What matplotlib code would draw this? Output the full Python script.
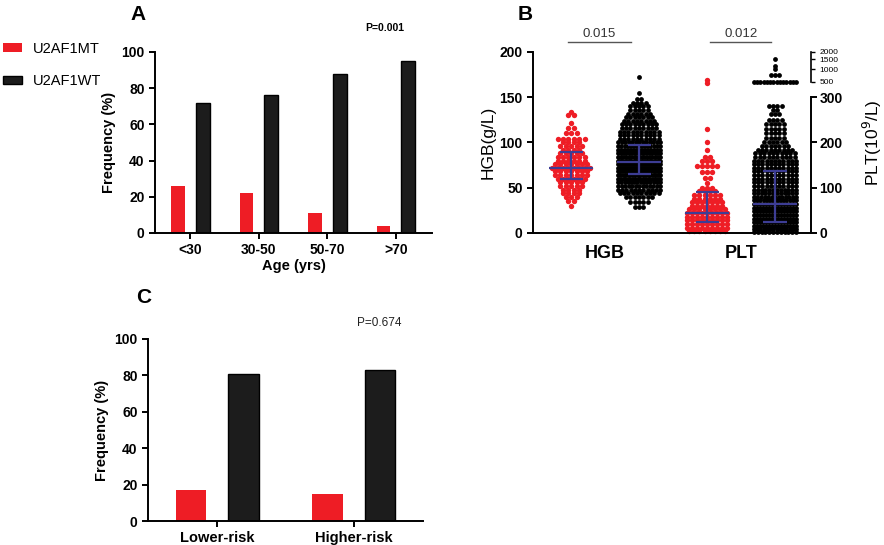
import numpy as np
import matplotlib
matplotlib.use('Agg')
import matplotlib.pyplot as plt
from matplotlib.patches import Patch

plt.rcParams['font.family'] = ['Liberation Sans', 'DejaVu Sans']

RED = '#ee1d25'
DARK = '#1c1c1c'
BLUE = '#3d3d94'

# ---- panel A: age groups
age_groups = ['<30', '30-50', '50-70', '>70']
age_mt = [26, 22, 11, 4]
age_wt = [72, 76, 88, 95]

# ---- panel C: risk groups
risk_groups = ['Lower-risk', 'Higher-risk']
risk_mt = [17, 15]
risk_wt = [81, 83]

# ---- panel B: dot rows (value level, number of dots)
hgb_mt_levels = [134, 130, 121, 116, 111, 104, 100, 96, 92, 88, 84, 80, 76, 72,
                 68, 64, 60, 56, 52, 48, 44, 40, 35, 30]
hgb_mt_counts = [1, 2, 1, 2, 3, 6, 4, 5, 4, 5, 6, 6, 7, 8,
                 7, 7, 6, 5, 5, 4, 4, 3, 2, 1]

hgb_wt_levels = [172, 155, 148, 144, 140, 136, 132, 128, 124, 120, 116, 112, 108, 104,
                 100, 96, 92, 88, 84, 80, 76, 72, 68, 64, 60, 56, 52,
                 48, 44, 40, 34, 29]
hgb_wt_counts = [1, 1, 2, 4, 5, 5, 6, 7, 8, 9, 9, 10, 10, 10,
                 13, 14, 15, 16, 17, 20, 22, 22, 20, 18, 16, 14, 13,
                 11, 10, 7, 5, 3]

plt_mt_levels = [580, 480, 229, 202, 184, 168, 158, 147, 134, 122, 110, 100, 92, 84,
                 76, 68, 60, 52, 44, 36, 28, 20, 12, 4]
plt_mt_counts = [1, 1, 1, 1, 1, 2, 3, 5, 3, 2, 1, 3, 4, 6,
                 6, 7, 7, 8, 9, 9, 9, 9, 9, 8]

plt_wt_levels = [1520, 1150, 1000, 780, 500, 280, 272, 262, 250, 240, 230, 220, 210,
                 200, 192, 184, 176, 168, 160, 152, 144, 136, 128, 120, 112, 104,
                 96, 88, 80, 72, 64, 56, 48, 40, 32, 24, 16, 8, 2]
plt_wt_counts = [1, 1, 1, 3, 14, 4, 2, 3, 4, 5, 5, 5, 5,
                 6, 7, 9, 10, 10, 11, 11, 11, 11, 11, 11, 11, 11,
                 12, 12, 13, 14, 15, 15, 15, 15, 15, 15, 15, 14, 12]

# median, lower quartile, upper quartile
hgb_mt_stats = [72, 60, 89]
hgb_wt_stats = [78, 65, 97]
plt_mt_stats = [45, 25, 90]
plt_wt_stats = [65, 25, 136]


def plt_to_y(v):
    # broken right axis: 0-300 linear, then compressed 500-2000 segment
    return np.interp(v, [0, 300, 500, 1000, 1500, 2000], [0, 150, 167, 181, 192, 200])


def swarm(center, levels, counts, step, width):
    xs, ys = [], []
    for lv, n in zip(levels, counts):
        d = step if n < 2 else min(step, width / (n - 1))
        xs.extend(center + (np.arange(n) - (n - 1) / 2) * d)
        ys.extend([lv] * n)
    return np.array(xs), np.array(ys)


def bar_axes(ax):
    ax.spines['top'].set_visible(False)
    ax.spines['right'].set_visible(False)
    for s in ['left', 'bottom']:
        ax.spines[s].set_linewidth(1.4)
    ax.tick_params(width=1.4, length=4)
    ax.set_ylim(0, 100)
    ax.set_yticks([0, 20, 40, 60, 80, 100])
    for lab in ax.get_yticklabels():
        lab.set_fontweight('bold')
        lab.set_fontsize(10)
    ax.set_ylabel('Frequency (%)', fontsize=10.5, fontweight='bold', labelpad=4)


fig = plt.figure(figsize=(8.84, 5.45), dpi=100)

# ---------------- A
axA = fig.add_axes([0.1753, 0.5725, 0.3133, 0.3321])
xa = np.arange(len(age_groups))
axA.bar(xa - 0.18, age_mt, 0.2, color=RED)
axA.bar(xa + 0.18, age_wt, 0.2, color=DARK, edgecolor='black')
axA.set_xlim(-0.518, 3.526)
bar_axes(axA)
axA.set_xticks(xa)
axA.set_xticklabels(age_groups, fontsize=10, fontweight='bold')
axA.set_xlabel('Age (yrs)', fontsize=10.5, fontweight='bold', labelpad=1)
axA.text(0.83, 1.13, 'P=0.001', transform=axA.transAxes, ha='center', va='center',
         fontsize=7.5, fontweight='bold')

# ---------------- C
axC = fig.add_axes([0.1674, 0.044, 0.3111, 0.334])
xc = np.arange(len(risk_groups))
axC.bar(xc - 0.19, risk_mt, 0.226, color=RED)
axC.bar(xc + 0.19, risk_wt, 0.226, color=DARK, edgecolor='black')
axC.set_xlim(-0.504, 1.504)
bar_axes(axC)
axC.set_xticks(xc)
axC.set_xticklabels(risk_groups, fontsize=10.5, fontweight='bold')
axC.text(0.84, 1.09, 'P=0.674', transform=axC.transAxes, ha='center', va='center',
         fontsize=8.5, color='#222222')

# ---------------- B
axB = fig.add_axes([0.603, 0.5725, 0.3145, 0.3321])
axB.set_xlim(0.44, 4.53)
axB.set_ylim(0, 200)
axB.spines['top'].set_visible(False)
axB.spines['right'].set_visible(False)
for s in ['left', 'bottom']:
    axB.spines[s].set_linewidth(1.4)
axB.tick_params(axis='y', width=1.4, length=4)
axB.set_yticks([0, 50, 100, 150, 200])
for lab in axB.get_yticklabels():
    lab.set_fontweight('bold')
    lab.set_fontsize(10)
axB.set_xticks([1.5, 3.5])
axB.set_xticklabels(['HGB', 'PLT'], fontsize=13, fontweight='bold')
axB.tick_params(axis='x', length=0, pad=9)
axB.set_ylabel('HGB(g/L)', fontsize=12.5, labelpad=3)

step = 0.064
groups = [
    (1, hgb_mt_levels, hgb_mt_counts, hgb_mt_stats, RED, False, 0.08, 0.56, 15),
    (2, hgb_wt_levels, hgb_wt_counts, hgb_wt_stats, 'black', False, step, 0.62, 12),
    (3, plt_mt_levels, plt_mt_counts, plt_mt_stats, RED, True, 0.075, 0.6, 15),
    (4, plt_wt_levels, plt_wt_counts, plt_wt_stats, 'black', True, step, 0.62, 12),
]
for pos, lv, cnt, st, col, is_plt, stp, wid, sz in groups:
    xs, ys = swarm(pos, lv, cnt, stp, wid)
    if is_plt:
        ys = plt_to_y(ys)
        st = plt_to_y(st)
    axB.scatter(xs, ys, s=sz, color=col, linewidths=0, zorder=2, clip_on=False)
    med, q1, q3 = st
    axB.hlines(med, pos - 0.32, pos + 0.32, color=BLUE, lw=1.6, zorder=3)
    axB.hlines([q1, q3], pos - 0.17, pos + 0.17, color=BLUE, lw=1.6, zorder=3)
    axB.vlines(pos, q1, q3, color=BLUE, lw=1.6, zorder=3)

# significance lines
for x0, x1, txt in [(0.95, 1.88, '0.015'), (3.05, 3.94, '0.012')]:
    axB.plot([x0, x1], [211, 211], color='#555555', lw=1, clip_on=False)
    axB.text((x0 + x1) / 2, 213.5, txt, ha='center', va='bottom', fontsize=9.5,
             color='#333333', clip_on=False)

# right broken PLT axis
ax2 = axB.twinx()
ax2.set_ylim(0, 200)
for s in ['left', 'top', 'bottom']:
    ax2.spines[s].set_visible(False)
ax2.spines['right'].set_linewidth(1.4)
ax2.spines['right'].set_bounds(0, 150)
plt_ticks = [0, 100, 200, 300, 500, 1000, 1500, 2000]
ax2.set_yticks(plt_to_y(plt_ticks))
ax2.set_yticklabels([str(t) for t in plt_ticks])
ax2.tick_params(axis='y', width=1.4, length=4, pad=2)
for i, tk in enumerate(ax2.yaxis.get_major_ticks()):
    if i < 4:
        tk.label2.set_fontsize(10)
        tk.label2.set_fontweight('bold')
    else:
        tk.label2.set_fontsize(6)
        tk.tick2line.set_markersize(3)
        tk.tick2line.set_markeredgewidth(1)
ax2.plot([1, 1], [167, 200], transform=ax2.get_yaxis_transform(), color='black',
         lw=1.2, clip_on=False)
ax2.set_ylabel('PLT(10$^9$/L)', fontsize=12.5, labelpad=13)

# panel letters
fig.text(0.156, 0.974, 'A', ha='center', va='center', fontsize=15, fontweight='bold')
fig.text(0.594, 0.973, 'B', ha='center', va='center', fontsize=15, fontweight='bold')
fig.text(0.163, 0.455, 'C', ha='center', va='center', fontsize=15, fontweight='bold')

# legend
handles = [Patch(facecolor=RED), Patch(facecolor=DARK, edgecolor='black')]
fig.legend(handles, ['U2AF1MT', 'U2AF1WT'], loc='upper left', bbox_to_anchor=(-0.011, 0.947),
           frameon=False, fontsize=10.5, handlelength=1.3, handleheight=0.55,
           labelspacing=1.25, handletextpad=0.7)

fig.savefig('out.png', dpi=100)
